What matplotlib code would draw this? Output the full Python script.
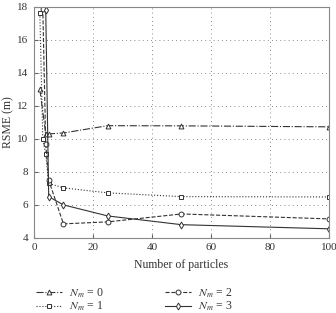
import matplotlib
matplotlib.use("Agg")
import matplotlib.pyplot as plt

x0 = [2, 4, 5, 10, 25, 50, 100]
y0 = [13.0, 10.3, 10.3, 10.36, 10.8, 10.79, 10.73]

x1 = [2, 3, 4, 5, 10, 25, 50, 100]
y1 = [17.6, 10.0, 9.1, 7.3, 7.03, 6.73, 6.5, 6.48]

x2 = [3, 4, 5, 10, 25, 50, 100]
y2 = [17.9, 9.7, 7.5, 4.85, 4.97, 5.45, 5.15]

x3 = [4, 5, 10, 25, 50, 100]
y3 = [17.8, 6.5, 6.0, 5.33, 4.8, 4.55]

plt.rcParams["font.family"] = ["Liberation Serif", "DejaVu Serif"]
plt.rcParams["mathtext.fontset"] = "stix"
plt.rcParams["text.color"] = "#333333"
plt.rcParams["axes.labelcolor"] = "#333333"
plt.rcParams["xtick.labelcolor"] = "#333333"
plt.rcParams["ytick.labelcolor"] = "#333333"

fig = plt.figure(figsize=(3.36, 3.13), dpi=100)
ax = fig.add_axes([0.101, 0.24, 0.878, 0.738])

col = "#333333"
kw = dict(color=col, lw=0.8, ms=3.5, mfc="white", mec=col, mew=0.7)
ax.plot(x0, y0, linestyle="-.", marker="^", label="$N_m$ = 0", **kw)
ax.plot(x1, y1, linestyle=":", marker="s", label="$N_m$ = 1", **kw)
ax.plot(x2, y2, linestyle="--", marker="o", label="$N_m$ = 2", **kw)
ax.plot(x3, y3, linestyle="-", marker="d", label="$N_m$ = 3", **kw)

ax.set_xlim(0, 100)
ax.set_ylim(4, 18)
ax.set_xticks(range(0, 101, 20))
ax.set_yticks(range(4, 19, 2))
ax.tick_params(labelsize=8, direction="in", length=3, color="#666666", pad=4)
ax.grid(True, linestyle=(0, (1, 4)), color="#666666", lw=0.6)
for s in ax.spines.values():
    s.set_color("#888888")
ax.set_xlabel("Number of particles", fontsize=8.5, labelpad=5)
ax.set_ylabel("RSME (m)", fontsize=8.5, labelpad=2)

fig.legend(loc="upper left", bbox_to_anchor=(0.09, 0.105), ncol=2, frameon=False,
           fontsize=8.5, handlelength=2.2, columnspacing=5.2, labelspacing=0.02,
           borderpad=0, handletextpad=0.6)

fig.savefig("out.png", dpi=100)
